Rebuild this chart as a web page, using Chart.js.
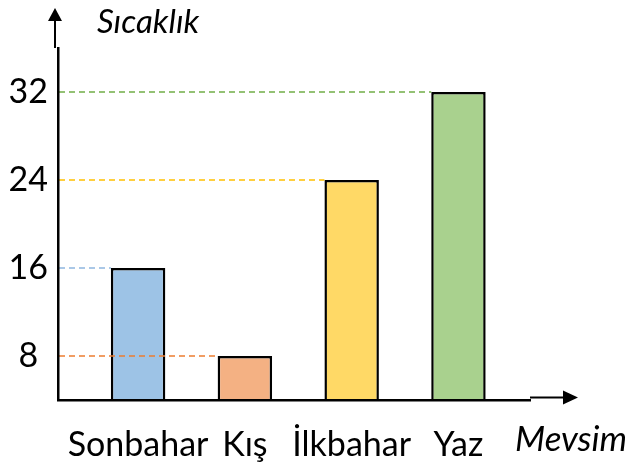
<!DOCTYPE html>
<html>
<head>
<meta charset="utf-8">
<script src="https://cdn.jsdelivr.net/npm/chart.js@4"></script>
<style>
  html, body { margin: 0; padding: 0; background: #fff; }
  #wrap { width: 630px; height: 466px; }
</style>
</head>
<body>
<div id="wrap"><canvas id="chart" width="630" height="466"></canvas></div>
<script>
// data
const seasons = ['Sonbahar', 'Kış', 'İlkbahar', 'Yaz'];
const temps = [16, 8, 24, 32];
const yTicks = [8, 16, 24, 32];
const yTitle = 'Sıcaklık';
const xTitle = 'Mevsim';

const fillColors = ['#9DC3E6', '#F4B183', '#FFD966', '#A9D18E'];
const dashColors = ['#8FB6E0', '#ED7D31', '#FFC000', '#70AD47'];
const FONT = 'Lato, "Open Sans", sans-serif';

// dashed guide lines from the y axis to each bar top
const guides = {
    id: 'guides',
    afterDatasetsDraw(chart) {
        const ctx = chart.ctx;
        const left = chart.chartArea.left;
        const bars = chart.getDatasetMeta(0).data;
        ctx.save();
        ctx.lineWidth = 1.3;
        ctx.setLineDash([6, 4]);
        bars.forEach(function(bar, i) {
            ctx.strokeStyle = dashColors[i];
            ctx.beginPath();
            ctx.moveTo(left + 1, bar.y);
            ctx.lineTo(bar.x - bar.width / 2, bar.y);
            ctx.stroke();
        });
        ctx.restore();
    }
};

// axis arrows and axis names
const arrows = {
    id: 'arrows',
    afterDraw(chart) {
        const ctx = chart.ctx;
        const a = chart.chartArea;
        ctx.save();
        ctx.fillStyle = '#000';
        ctx.strokeStyle = '#000';
        ctx.lineWidth = 2;

        // y arrow
        const ax = a.left - 3;
        ctx.beginPath();
        ctx.moveTo(ax, a.top);
        ctx.lineTo(ax, a.top - 28);
        ctx.stroke();
        ctx.beginPath();
        ctx.moveTo(ax, a.top - 40);
        ctx.lineTo(ax - 7, a.top - 27);
        ctx.lineTo(ax + 7, a.top - 27);
        ctx.closePath();
        ctx.fill();

        // x arrow
        const ay = a.bottom - 2.5;
        ctx.beginPath();
        ctx.moveTo(a.right, ay);
        ctx.lineTo(a.right + 35, ay);
        ctx.stroke();
        ctx.beginPath();
        ctx.moveTo(a.right + 48, ay);
        ctx.lineTo(a.right + 33, ay - 7);
        ctx.lineTo(a.right + 33, ay + 7);
        ctx.closePath();
        ctx.fill();

        ctx.textBaseline = 'middle';
        ctx.textAlign = 'left';
        ctx.font = 'italic 33px ' + FONT;
        ctx.fillText(yTitle, 97, 22);
        ctx.font = 'italic 35px ' + FONT;
        ctx.fillText(xTitle, 515, 440);
        ctx.restore();
    }
};

new Chart(document.getElementById('chart'), {
    type: 'bar',
    data: {
        datasets: [{
            data: temps.map((v, i) => ({ x: i, y: v })),
            backgroundColor: fillColors,
            borderColor: '#000',
            borderWidth: 2.5,
            borderSkipped: 'start',
            barPercentage: 0.51,
            categoryPercentage: 1
        }]
    },
    options: {
        responsive: false,
        animation: false,
        layout: { padding: { top: 48, right: 100, left: 0, bottom: 0 } },
        plugins: { legend: { display: false }, tooltip: { enabled: false } },
        scales: {
            x: {
                type: 'linear',
                offset: false,
                min: -0.75,
                max: 3.67,
                grid: { display: false },
                border: { display: true, color: '#000', width: 2.5, z: 1 },
                afterBuildTicks: s => { s.ticks = seasons.map((c, i) => ({ value: i })); },
                afterFit: s => { s.height = 66; },
                ticks: {
                    padding: 17,
                    color: '#000',
                    maxRotation: 0,
                    autoSkip: false,
                    font: { family: FONT, size: 34 },
                    callback: v => seasons[v]
                }
            },
            y: {
                min: 4,
                max: 36,
                grid: { display: false },
                border: { display: true, color: '#000', width: 2.5, z: 1 },
                afterBuildTicks: s => { s.ticks = yTicks.map(v => ({ value: v })); },
                afterFit: s => { s.width = 58; },
                ticks: {
                    padding: 2,
                    crossAlign: 'center',
                    color: '#000',
                    font: { family: FONT, size: 34 }
                }
            }
        }
    },
    plugins: [guides, arrows]
});
</script>
</body>
</html>
